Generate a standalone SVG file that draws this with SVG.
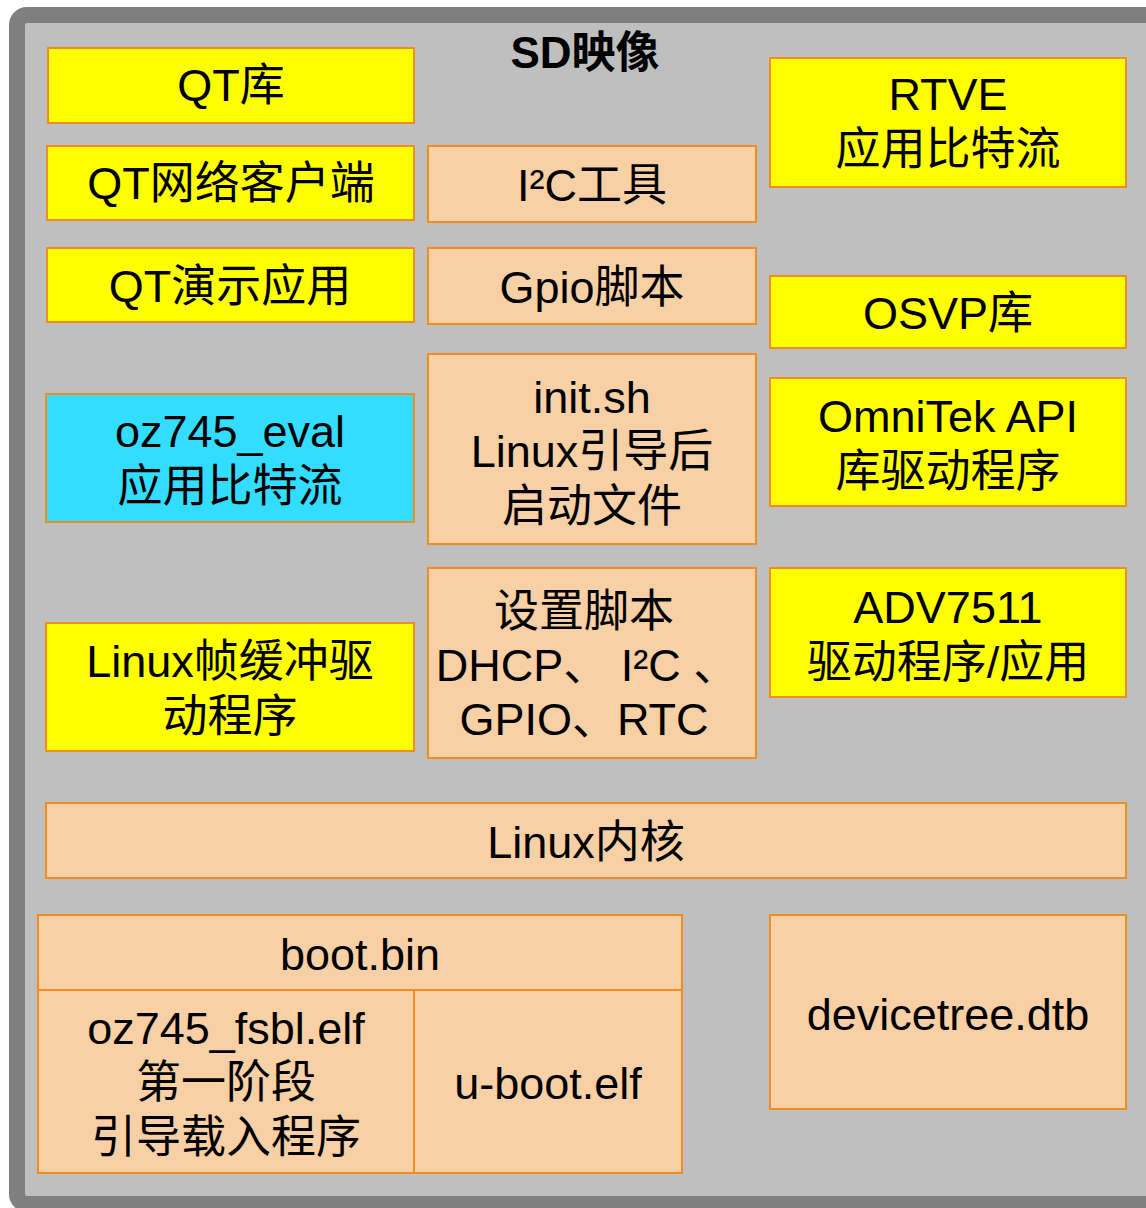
<svg xmlns="http://www.w3.org/2000/svg" width="1146" height="1208" viewBox="0 0 1146 1208">
  <style>
    text { font-family: "Liberation Sans", "Noto Sans CJK SC", sans-serif; font-size: 45px; fill: #000; text-anchor: middle; }
    .title { font-weight: bold; font-size: 44px; }
    .box { stroke: #EE8E22; stroke-width: 2; }
    .yellow { fill: #FFFF00; }
    .peach { fill: #F8D0A6; }
    .cyan { fill: #33DDFF; }
  </style>

  <!-- SD image frame -->
  <g id="sd-image">
    <rect x="17" y="15" width="1160" height="1189" rx="10" fill="#BFBFBF" stroke="#7F7F7F" stroke-width="16"/>
    <text class="title" x="585" y="68">SD映像</text>
  </g>

  <!-- Left column: Qt and application layers -->
  <g id="qt-lib">
    <rect class="box yellow" x="48" y="48" width="366" height="75"/>
    <text x="231" y="101">QT库</text>
  </g>
  <g id="qt-net-client">
    <rect class="box yellow" x="47" y="146" width="367" height="74"/>
    <text x="231" y="199">QT网络客户端</text>
  </g>
  <g id="qt-demo">
    <rect class="box yellow" x="47" y="248" width="367" height="74"/>
    <text x="230" y="302">QT演示应用</text>
  </g>
  <g id="oz745-eval">
    <rect class="box cyan" x="46" y="394" width="368" height="128"/>
    <text x="230" y="447">oz745_eval</text>
    <text x="230" y="502">应用比特流</text>
  </g>
  <g id="linux-fb">
    <rect class="box yellow" x="46" y="623" width="368" height="128"/>
    <text x="230" y="677">Linux帧缓冲驱</text>
    <text x="230" y="732">动程序</text>
  </g>

  <!-- Middle column: scripts and tools -->
  <g id="i2c-tools">
    <rect class="box peach" x="428" y="146" width="328" height="76"/>
    <text x="592" y="201">I²C工具</text>
  </g>
  <g id="gpio-script">
    <rect class="box peach" x="428" y="248" width="328" height="76"/>
    <text x="592" y="303">Gpio脚本</text>
  </g>
  <g id="init-sh">
    <rect class="box peach" x="428" y="354" width="328" height="190"/>
    <text x="592" y="413">init.sh</text>
    <text x="592" y="467">Linux引导后</text>
    <text x="592" y="522">启动文件</text>
  </g>
  <g id="setup-scripts">
    <rect class="box peach" x="428" y="568" width="328" height="190"/>
    <text x="584" y="627">设置脚本</text>
    <text x="587" y="681" xml:space="preserve">DHCP、 I²C 、</text>
    <text x="584" y="735">GPIO、RTC</text>
  </g>

  <!-- Right column: bitstreams and drivers -->
  <g id="rtve">
    <rect class="box yellow" x="770" y="58" width="356" height="129"/>
    <text x="948" y="110">RTVE</text>
    <text x="948" y="165">应用比特流</text>
  </g>
  <g id="osvp-lib">
    <rect class="box yellow" x="770" y="276" width="356" height="72"/>
    <text x="948" y="329">OSVP库</text>
  </g>
  <g id="omnitek-api">
    <rect class="box yellow" x="770" y="378" width="356" height="128"/>
    <text x="948" y="432">OmniTek API</text>
    <text x="948" y="487">库驱动程序</text>
  </g>
  <g id="adv7511">
    <rect class="box yellow" x="770" y="568" width="356" height="129"/>
    <text x="948" y="623">ADV7511</text>
    <text x="948" y="678">驱动程序/应用</text>
  </g>

  <!-- Kernel -->
  <g id="linux-kernel">
    <rect class="box peach" x="46" y="803" width="1080" height="75"/>
    <text x="586" y="858">Linux内核</text>
  </g>

  <!-- Boot files -->
  <g id="boot-bin">
    <rect class="box peach" x="38" y="915" width="644" height="75"/>
    <text x="360" y="970">boot.bin</text>
  </g>
  <g id="fsbl">
    <rect class="box peach" x="38" y="990" width="376" height="183"/>
    <text x="226" y="1044">oz745_fsbl.elf</text>
    <text x="226" y="1098">第一阶段</text>
    <text x="226" y="1153">引导载入程序</text>
  </g>
  <g id="u-boot">
    <rect class="box peach" x="414" y="990" width="268" height="183"/>
    <text x="548" y="1099">u-boot.elf</text>
  </g>
  <g id="devicetree">
    <rect class="box peach" x="770" y="915" width="356" height="194"/>
    <text x="948" y="1030">devicetree.dtb</text>
  </g>
</svg>
